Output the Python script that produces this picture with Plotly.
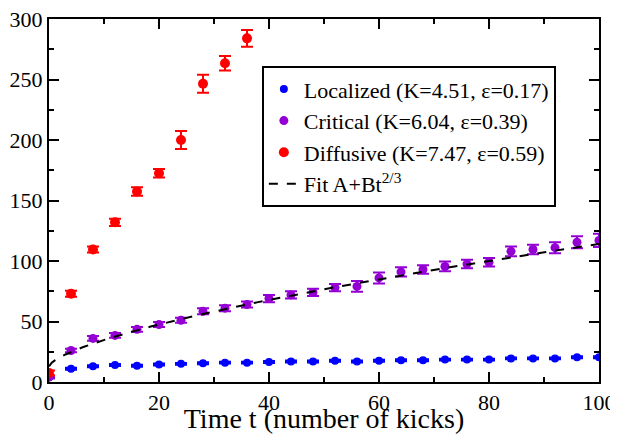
import numpy as np
import plotly.graph_objects as go

# ---- data ----
t_red = [0, 4, 8, 12, 16, 20, 24, 28, 32, 36]
diffusive = [7.5, 73, 109.5, 132, 157.5, 172.5, 200, 246.5, 263.5, 284]
diffusive_err = [2, 2.5, 2.5, 3, 3.5, 3.5, 7.5, 7.5, 6, 7]

t_all = [0, 4, 8, 12, 16, 20, 24, 28, 32, 36, 40, 44, 48, 52, 56, 60, 64, 68, 72, 76, 80, 84, 88, 92, 96, 100]
critical = [4, 26, 36, 38.5, 43.5, 47.5, 51, 58.5, 61, 64, 69, 72, 74, 78, 79, 86, 91, 93, 95.5, 97.5,
            99, 108, 109.5, 111, 115.5, 117]
critical_err = [1, 1.5, 2, 2, 2, 2, 2, 2.5, 2.5, 2.5, 3, 3, 3, 3, 4.4, 4.5, 3.9, 3.5, 4, 3.5,
                3.5, 4, 4, 4.5, 5, 5.5]
localized = [4, 11, 13, 14, 13.5, 14.5, 15, 15.5, 16, 16, 16.5, 17, 17, 17.5, 17, 17.5, 18, 18,
             18.5, 18.5, 18.5, 19.5, 19.5, 19.5, 20.5, 20.5]
localized_err = [0.8] * 26

fit_A = 13.0
fit_B = 4.69
fit_t = np.linspace(0, 100, 201)

x_ticks = [0, 20, 40, 60, 80, 100]
y_ticks = [0, 50, 100, 150, 200, 250, 300]

FONT = "Liberation Serif"

fig = go.Figure()

fig.add_trace(go.Scatter(
    x=t_all, y=localized, mode="markers", name="Localized (K=4.51, ε=0.17)",
    marker=dict(color="#0000ff", size=8, symbol="circle"),
    error_y=dict(type="data", array=localized_err, color="#0000ff", thickness=2, width=6),
))
fig.add_trace(go.Scatter(
    x=t_all, y=critical, mode="markers", name="Critical (K=6.04, ε=0.39)",
    marker=dict(color="#9400d3", size=9, symbol="circle"),
    error_y=dict(type="data", array=critical_err, color="#9400d3", thickness=2, width=6),
))
fig.add_trace(go.Scatter(
    x=t_red, y=diffusive, mode="markers", name="Diffusive (K=7.47, ε=0.59)",
    marker=dict(color="#ff0000", size=10, symbol="circle"),
    error_y=dict(type="data", array=diffusive_err, color="#ff0000", thickness=2, width=6),
))
fig.add_trace(go.Scatter(
    x=fit_t, y=fit_A + fit_B * fit_t ** (2.0 / 3.0), mode="lines",
    name="Fit A+Bt<sup>2/3</sup>",
    line=dict(color="black", width=2, dash="dash"),
))

axis_common = dict(
    showgrid=False, zeroline=False, showline=True, linecolor="black", linewidth=2,
    mirror="ticks", ticks="inside", ticklen=10, tickwidth=2, tickcolor="black",
    tickfont=dict(family=FONT, size=22, color="black"),
    ticklabeloverflow="allow",
    automargin=False,
)

fig.update_xaxes(
    range=[0, 100], tickvals=x_ticks,
    minor=dict(dtick=10, ticks="inside", ticklen=5, tickwidth=2, tickcolor="black"),
    title=dict(text="Time t (number of kicks)", font=dict(family=FONT, size=28, color="black"), standoff=0),
    **axis_common,
)
fig.update_yaxes(
    range=[0, 300], tickvals=y_ticks,
    minor=dict(dtick=25, ticks="inside", ticklen=5, tickwidth=2, tickcolor="black"),
    **axis_common,
)

# the page places the figure 8px from the top-left corner of the window
fig.update_layout(
    width=610, height=426,
    margin=dict(l=41, r=19, t=11, b=52),
    paper_bgcolor="white", plot_bgcolor="white",
    showlegend=True,
    font=dict(family=FONT, color="black"),
    legend=dict(
        x=0.387, y=0.870, xanchor="left", yanchor="top",
        bgcolor="white", bordercolor="black", borderwidth=2,
        font=dict(family=FONT, size=22, color="black"),
        tracegroupgap=0, itemwidth=30,
    ),
)

fig.write_html("out.html")
